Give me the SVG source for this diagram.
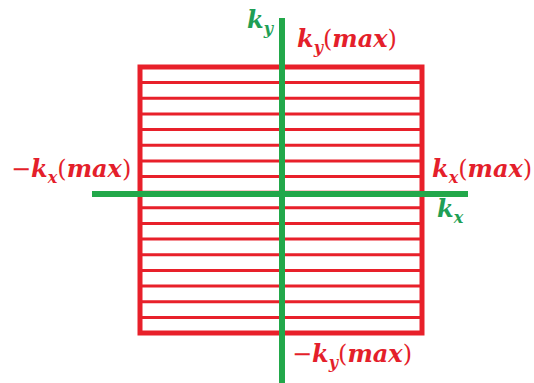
<svg xmlns="http://www.w3.org/2000/svg" width="534" height="383" viewBox="0 0 534 383">
<style>
.r{stroke:#e8202a;fill:none}
.g{stroke:#22a84a;fill:none}
text{font-family:"DejaVu Serif","Liberation Serif",serif;font-size:24px;font-style:italic;font-weight:bold}
.rt{fill:#e41f2b}
.gt{fill:#1f9f55}
.sub{font-size:16px}
.p{font-weight:normal;font-style:normal}
</style>
<rect width="534" height="383" fill="#fff"/>
<g id="grid">
<rect class="r" x="140" y="67" width="282" height="266" stroke-width="5"/>
<path class="r" stroke-width="3" d="M140 82.6H422M140 98.3H422M140 113.9H422M140 129.6H422M140 145.2H422M140 160.9H422M140 176.5H422M140 192.2H422M140 207.8H422M140 223.5H422M140 239.1H422M140 254.8H422M140 270.4H422M140 286.1H422M140 301.7H422M140 317.4H422"/>
</g>
<g id="axes">
<line class="g" x1="282" y1="18" x2="282" y2="383" stroke-width="6"/>
<line class="g" x1="92" y1="194" x2="468" y2="194" stroke-width="6"/>
</g>
<g id="labels">
<text class="gt" x="247" y="28">k<tspan class="sub" dy="6">y</tspan></text>
<text class="rt" x="297" y="47">k<tspan class="sub" dy="6">y</tspan><tspan class="p" dy="-6">(</tspan>max<tspan class="p">)</tspan></text>
<text class="rt" x="11" y="177"><tspan class="p">−</tspan>k<tspan class="sub" dy="6">x</tspan><tspan class="p" dy="-6">(</tspan>max<tspan class="p">)</tspan></text>
<text class="rt" x="432" y="177">k<tspan class="sub" dy="6">x</tspan><tspan class="p" dy="-6">(</tspan>max<tspan class="p">)</tspan></text>
<text class="gt" x="437" y="217">k<tspan class="sub" dy="6">x</tspan></text>
<text class="rt" x="292" y="362"><tspan class="p">−</tspan>k<tspan class="sub" dy="6">y</tspan><tspan class="p" dy="-6">(</tspan>max<tspan class="p">)</tspan></text>
</g>
</svg>
